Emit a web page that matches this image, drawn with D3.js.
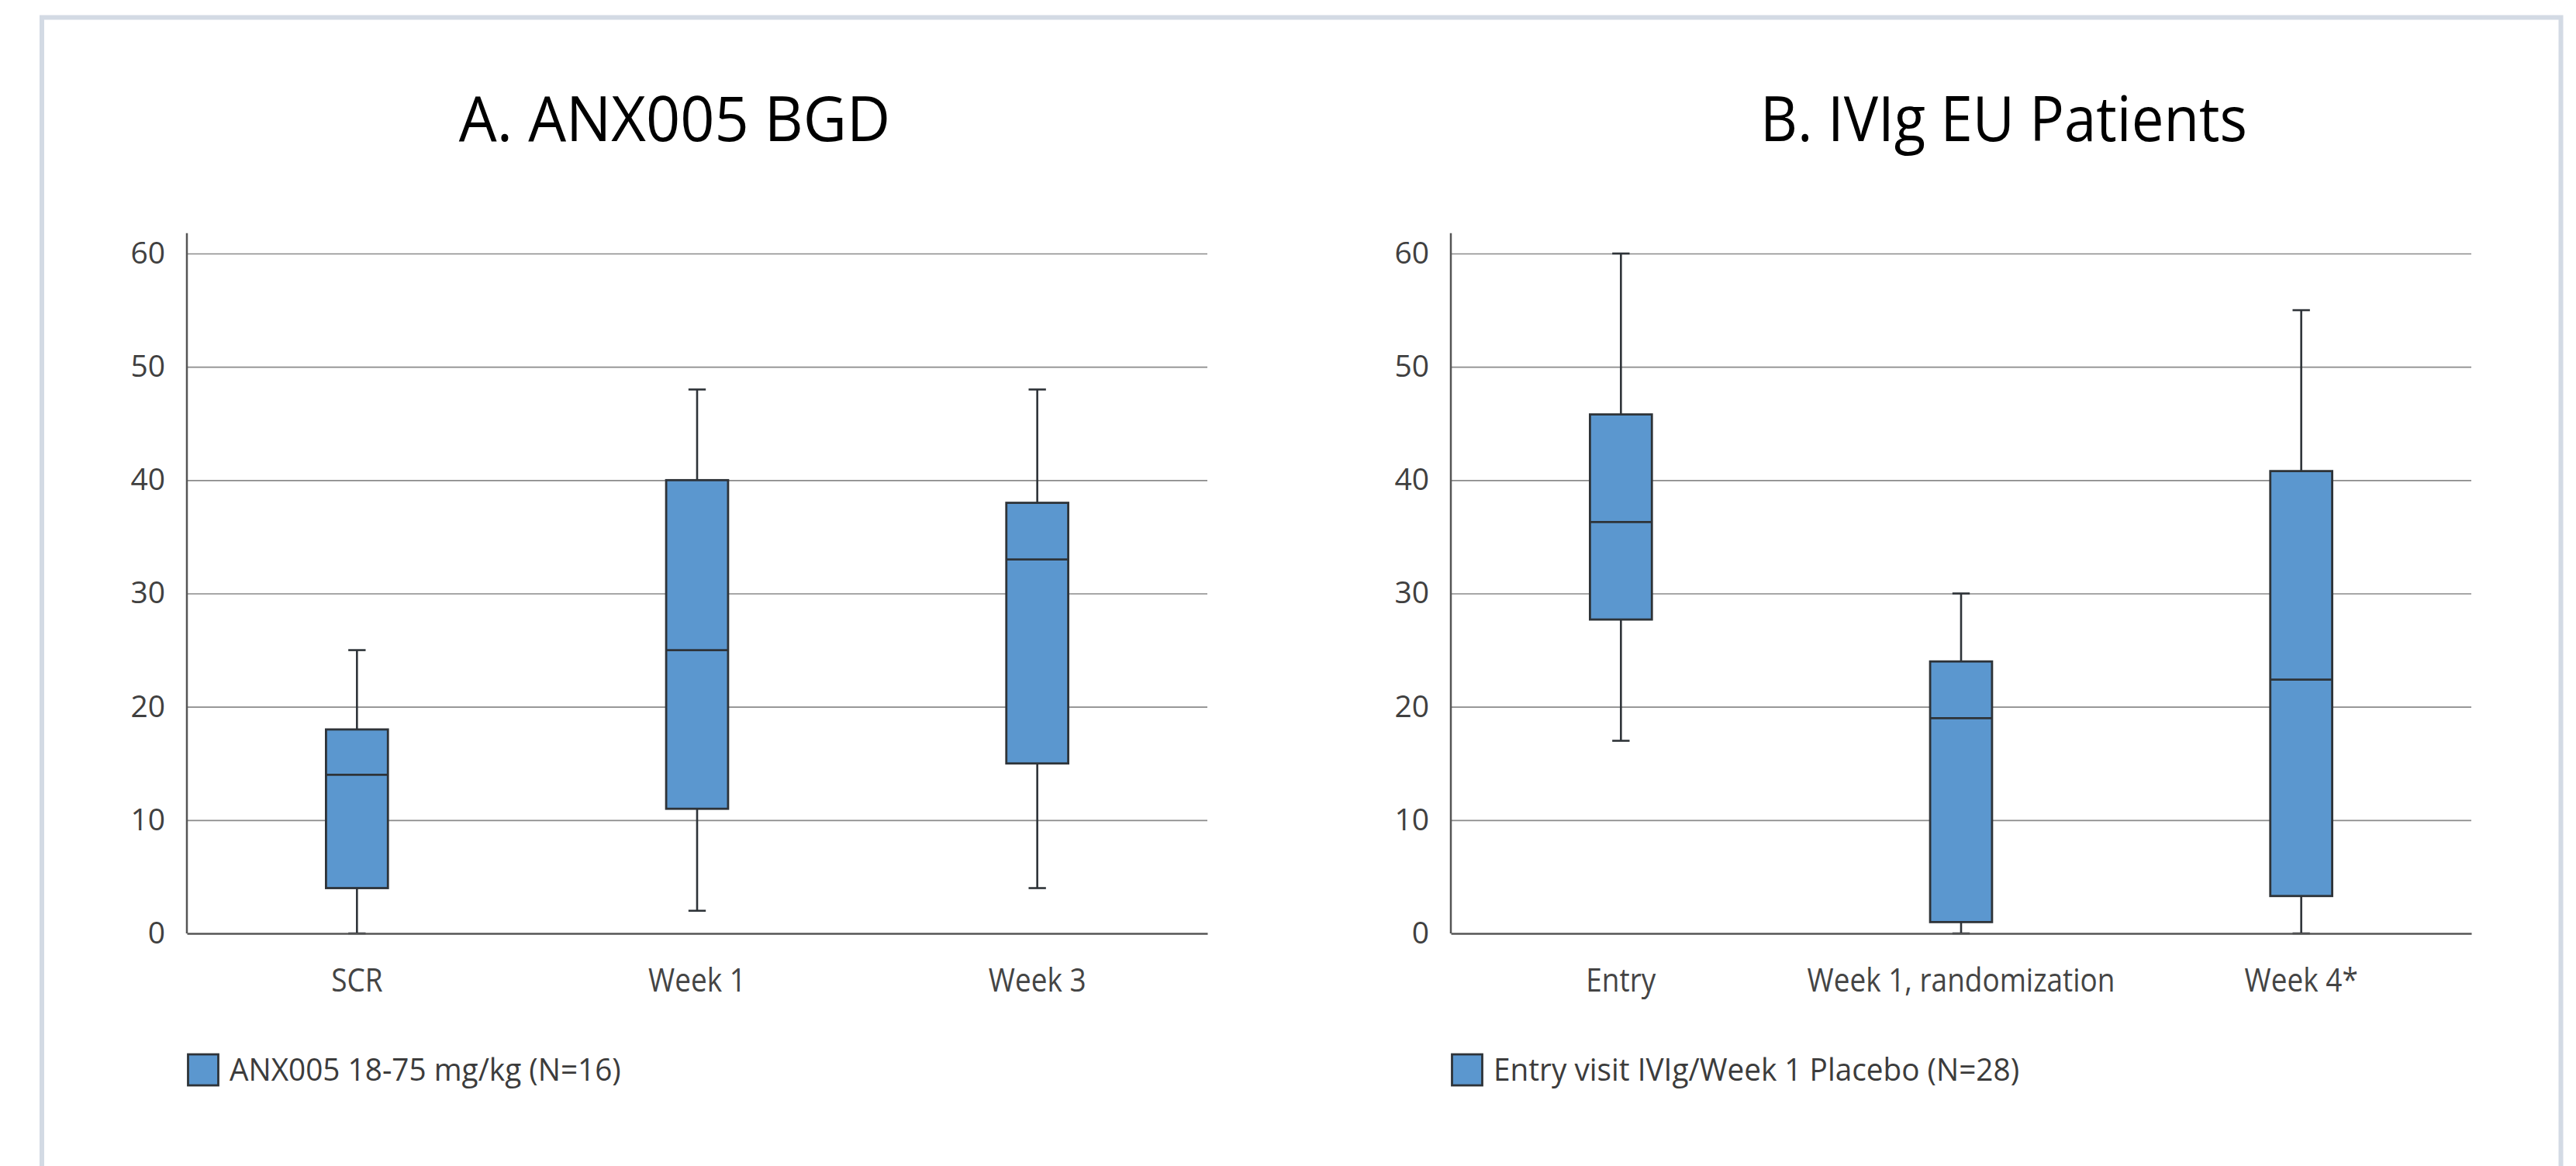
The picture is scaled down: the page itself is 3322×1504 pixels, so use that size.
<!DOCTYPE html>
<html>
<head>
<meta charset="utf-8">
<script src="https://cdn.jsdelivr.net/npm/d3@7"></script>
<style>
  body { margin: 0; background: #fff; }
  svg { display: block; }
</style>
</head>
<body>
<svg id="chart"></svg>
<script>
var width = 3322, height = 1504

// panel A - ANX005 BGD
var catsA = ["SCR", "Week 1", "Week 3"]
var minA = [0, 2, 4]
var q1A = [4, 11, 15]
var medA = [14, 25, 33]
var q3A = [18, 40, 38]
var maxA = [25, 48, 48]

// panel B - IVIg EU patients
var catsB = ["Entry", "Week 1, randomization", "Week 4*"]
var minB = [17, 0, 0]
var q1B = [27.7, 1, 3.3]
var medB = [36.3, 19, 22.4]
var q3B = [45.8, 24, 40.8]
var maxB = [60, 30, 55]

var yTicks = [0, 10, 20, 30, 40, 50, 60]
var titles = ["A. ANX005 BGD", "B. IVIg EU Patients"]
var legends = ["ANX005 18-75 mg/kg (N=16)", "Entry visit IVIg/Week 1 Placebo (N=28)"]

var boxFill = "#5b97cf"
var boxStroke = "#2e3338"
var font = "'Open Sans', 'Noto Sans', sans-serif"

var svg = d3.select("#chart").attr("width", width).attr("height", height)

svg.append("rect").attr("width", width).attr("height", height).attr("fill", "#fff")

// outer frame
svg.append("rect")
   .attr("x", 54).attr("y", 22.5)
   .attr("width", 3248.5).attr("height", 1700)
   .attr("fill", "none")
   .attr("stroke", "#d3dae4")
   .attr("stroke-width", 6)

function condense(sel, k) {
  sel.each(function() {
    var w = this.getComputedTextLength()
    d3.select(this).attr("textLength", w * k).attr("lengthAdjust", "spacingAndGlyphs")
  })
}

var plotW = 1316
var y = d3.scaleLinear().domain([0, 60]).range([1204, 327])

var panels = [
  { x0: 241, titleX: 870, titleK: 0.955, cats: catsA, min: minA, q1: q1A, med: medA, q3: q3A, max: maxA, title: titles[0], legend: legends[0] },
  { x0: 1871, titleX: 2584, titleK: 0.918, cats: catsB, min: minB, q1: q1B, med: medB, q3: q3B, max: maxB, title: titles[1], legend: legends[1] }
]

panels.forEach(function(p) {
  var g = svg.append("g")
  var x = d3.scaleBand().domain(p.cats).range([p.x0, p.x0 + plotW])
  var boxW = x.bandwidth() * 0.182
  var capW = boxW * 0.28

  var rows = p.cats.map(function(c, i) {
    return { cat: c, min: p.min[i], q1: p.q1[i], med: p.med[i], q3: p.q3[i], max: p.max[i] }
  })

  // title
  var t = g.append("text")
    .attr("x", p.titleX).attr("y", 182)
    .attr("text-anchor", "middle")
    .attr("font-family", font)
    .attr("font-size", 81)
    .attr("fill", "#000")
    .text(p.title)
  condense(t, p.titleK)

  // gridlines
  var grid = g.append("g")
    .attr("transform", "translate(" + p.x0 + ",0)")
    .call(d3.axisLeft(y).tickValues(yTicks.slice(1)).tickSize(-plotW).tickFormat(""))
  grid.select(".domain").remove()
  grid.selectAll("line").attr("stroke", "#8a8a8a").attr("stroke-width", 1.6)

  // y tick labels
  var yAxis = g.append("g")
    .attr("transform", "translate(" + p.x0 + ",0)")
    .call(d3.axisLeft(y).tickValues(yTicks).tickSize(0).tickPadding(28))
  yAxis.select(".domain").remove()
  yAxis.selectAll("text")
    .attr("font-family", font)
    .attr("font-size", 39)
    .attr("fill", "#404040")

  // boxes
  var box = g.selectAll(".box").data(rows).enter().append("g").attr("class", "box")
  var cx = function(d) { return x(d.cat) + x.bandwidth() / 2 }

  box.append("line")
    .attr("x1", cx).attr("x2", cx)
    .attr("y1", function(d) { return y(d.max) })
    .attr("y2", function(d) { return y(d.min) })
    .attr("stroke", boxStroke).attr("stroke-width", 2.6)

  box.append("line")
    .attr("x1", function(d) { return cx(d) - capW / 2 })
    .attr("x2", function(d) { return cx(d) + capW / 2 })
    .attr("y1", function(d) { return y(d.max) })
    .attr("y2", function(d) { return y(d.max) })
    .attr("stroke", boxStroke).attr("stroke-width", 2.6)

  box.append("line")
    .attr("x1", function(d) { return cx(d) - capW / 2 })
    .attr("x2", function(d) { return cx(d) + capW / 2 })
    .attr("y1", function(d) { return y(d.min) })
    .attr("y2", function(d) { return y(d.min) })
    .attr("stroke", boxStroke).attr("stroke-width", 2.6)

  box.append("rect")
    .attr("x", function(d) { return cx(d) - boxW / 2 })
    .attr("y", function(d) { return y(d.q3) })
    .attr("width", boxW)
    .attr("height", function(d) { return y(d.q1) - y(d.q3) })
    .attr("fill", boxFill)
    .attr("stroke", boxStroke).attr("stroke-width", 2.8)

  box.append("line")
    .attr("x1", function(d) { return cx(d) - boxW / 2 })
    .attr("x2", function(d) { return cx(d) + boxW / 2 })
    .attr("y1", function(d) { return y(d.med) })
    .attr("y2", function(d) { return y(d.med) })
    .attr("stroke", boxStroke).attr("stroke-width", 2.8)

  // axis lines
  g.append("line")
    .attr("x1", p.x0).attr("x2", p.x0)
    .attr("y1", y(0)).attr("y2", y(61.8))
    .attr("stroke", "#555").attr("stroke-width", 2.5)

  var xAxis = g.append("g")
    .attr("transform", "translate(0," + y(0) + ")")
    .call(d3.axisBottom(x).tickSize(0).tickPadding(0))
  xAxis.select(".domain").attr("stroke", "#555").attr("stroke-width", 2.5)
  var xl = xAxis.selectAll("text")
    .attr("dy", 0).attr("y", 75)
    .attr("font-family", font)
    .attr("font-size", 42)
    .attr("fill", "#444")
  condense(xl, 0.88)

  // legend
  g.append("rect")
    .attr("x", p.x0 + 1.5).attr("y", 1360)
    .attr("width", 39).attr("height", 40)
    .attr("fill", boxFill)
    .attr("stroke", boxStroke).attr("stroke-width", 2.8)

  var lt = g.append("text")
    .attr("x", p.x0 + 55).attr("y", 1394)
    .attr("font-family", font)
    .attr("font-size", 41)
    .attr("fill", "#3c3c3c")
    .text(p.legend)
  condense(lt, 0.945)
})
</script>
</body>
</html>
